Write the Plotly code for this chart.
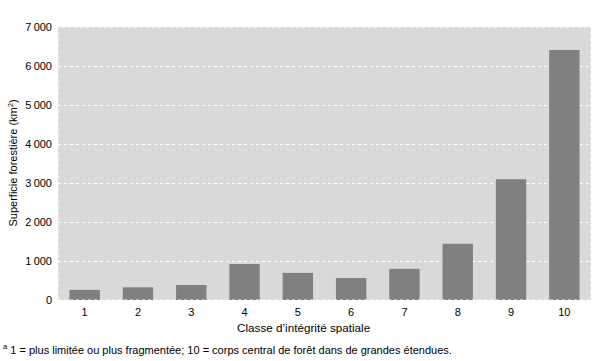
import plotly.graph_objects as go

classes = ["1", "2", "3", "4", "5", "6", "7", "8", "9", "10"]
superficie = [260, 325, 385, 925, 695, 565, 800, 1440, 3095, 6410]
y_tick_vals = [0, 1000, 2000, 3000, 4000, 5000, 6000, 7000]
y_tick_text = ["0", "1\u2009000", "2\u2009000", "3\u2009000", "4\u2009000",
               "5\u2009000", "6\u2009000", "7\u2009000"]

FONT = "Liberation Sans, Arial, sans-serif"

fig = go.Figure()
fig.add_trace(go.Bar(
    x=classes, y=superficie,
    marker=dict(color="#808080", line=dict(width=0)),
    hoverinfo="x+y",
))

fig.update_layout(
    width=600, height=361,
    margin=dict(l=58, r=9, t=27, b=61),
    paper_bgcolor="white",
    plot_bgcolor="#d9d9d9",
    bargap=0.43,
    showlegend=False,
    font=dict(family=FONT, size=11, color="black"),
    xaxis=dict(
        type="category",
        showgrid=False, zeroline=False, showline=False,
        ticks="", tickfont=dict(size=11),
        ticklabelstandoff=4,
    ),
    yaxis=dict(
        range=[0, 7000],
        tickvals=y_tick_vals, ticktext=y_tick_text,
        showgrid=True, gridcolor="white", gridwidth=1, griddash="dot",
        zeroline=False, showline=False, ticks="",
        tickfont=dict(size=11),
        ticklabelstandoff=5,
    ),
    shapes=[
        dict(type="rect", xref="paper", yref="paper", x0=0, x1=1, y0=0, y1=1,
             line=dict(color="white", width=1, dash="dot"), layer="above"),
    ],
    annotations=[
        dict(text="Superficie forestière (km<sup>2</sup>)", xref="paper", yref="paper",
             x=-0.0863, y=0.5, xanchor="center", yanchor="middle", textangle=-90,
             showarrow=False, font=dict(size=11)),
        dict(text="Classe d’intégrité spatiale", xref="paper", yref="paper",
             x=0.46, y=-0.099, xanchor="center", yanchor="middle",
             showarrow=False, font=dict(size=11.7)),
        dict(text="<sup>a</sup> 1 = plus limitée ou plus fragmentée; 10 = corps central de forêt dans de grandes étendues.",
             xref="paper", yref="paper", x=-0.107, y=-0.179, xanchor="left", yanchor="middle",
             showarrow=False, font=dict(size=11)),
    ],
)

fig.write_html("out.html", config={"displayModeBar": False},
               post_script="document.body.style.margin='0';")
